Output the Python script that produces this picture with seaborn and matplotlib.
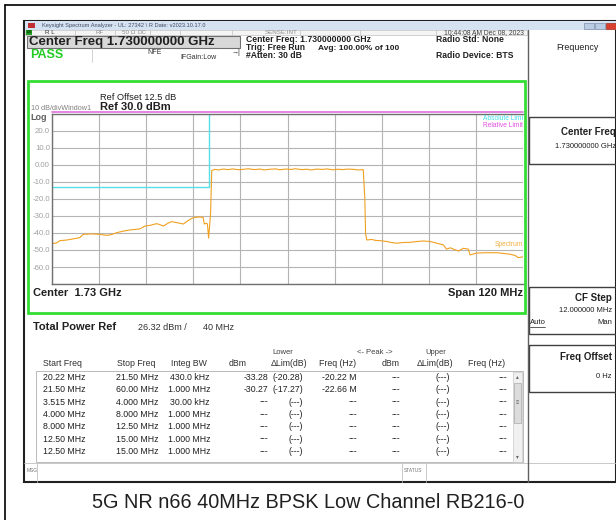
import numpy as np
import pandas as pd
import seaborn as sns
import matplotlib.pyplot as plt
from matplotlib.patches import Rectangle

# spectrum trace, offset from the 1.73 GHz centre (MHz) vs level (dBm)
trace_freq = [-60, -59.5, -58.8, -58, -56.5, -55.4, -54, -52.9, -52.4, -52, -50, -47.8,
              -46.1, -44.8, -43.5, -42, -40.1, -38.8, -37.6, -36.3, -35.2, -34.2, -33.3,
              -32.4, -31.6, -30.5, -29.5, -28.2, -26.5, -25.4, -24.4, -23.6, -22.5, -21.5,
              -21.2, -20.6, -20.4, -20.1, -19.8, -19.6, -19.3,
              -18.5, -17.5, -16.5, -15, -14, -12.5, -11, -10, -8.5, -7, -6, -4.5, -3, -2,
              -0.5, 1, 2, 3.5, 5, 6, 7.5, 9, 10, 11.5, 13, 14, 15.5, 17, 18, 19.3,
              19.7, 19.9, 20.2, 21.5, 22.5, 23.6, 25.3, 26.5, 27.8, 29.5, 31.2, 33, 34.6,
              36.3, 38, 39.7, 40.5, 41.5, 42.3, 43.5, 44.8, 46.1, 46.5, 48.2, 50.7, 53.3,
              55, 56.7, 58, 58.8, 60]
trace_dbm = [-45.5, -46.2, -45.8, -44.5, -44.2, -43.8, -43.2, -42.7, -41.5, -40.8, -40.5, -40.8,
             -41.4, -40.9, -39.8, -39.0, -38.2, -37.9, -37.6, -35.9, -35.6, -35.0, -34.5,
             -35.2, -35.9, -34.3, -33.3, -33.9, -34.7, -32.8, -31.4, -30.8, -30.6, -30.8,
             -34.7, -34.2, -34.7, -43.0, -34.5, -28.4, -3.2,
             -2.6, -2.9, -2.4, -2.7, -2.3, -2.8, -2.5, -2.2, -2.7, -2.4, -2.9, -2.5, -2.3, -2.8,
             -2.4, -2.6, -2.2, -2.7, -2.5, -2.9, -2.4, -2.6, -2.3, -2.8, -2.5, -2.7, -2.4, -2.6, -2.9, -2.7,
             -20.0, -40.5, -44.1, -43.8, -44.4, -44.5, -45.0, -45.6, -46.0, -45.6, -45.5, -45.0, -44.7,
             -45.0, -46.0, -47.0, -49.5, -48.7, -49.5, -50.6, -49.0, -49.5, -52.9, -51.8, -51.6, -51.6,
             -52.0, -52.5, -53.2, -54.5, -54.0]

# limit lines
abs_lim_freq = [-60, -20, -20]
abs_lim_dbm = [-13, -13, 45]
rel_lim_freq = [-60, 60]
rel_lim_dbm = [31.4, 31.4]

ytick_vals = [30, 20, 10, 0, -10, -20, -30, -40, -50, -60, -70]
ytick_text = ["", "20.0", "10.0", "0.00", "-10.0", "-20.0", "-30.0", "-40.0", "-50.0", "-60.0", ""]

# measurement table
start_freq = ["20.22 MHz", "21.50 MHz", "3.515 MHz", "4.000 MHz", "8.000 MHz", "12.50 MHz", "12.50 MHz"]
stop_freq = ["21.50 MHz", "60.00 MHz", "4.000 MHz", "8.000 MHz", "12.50 MHz", "15.00 MHz", "15.00 MHz"]
integ_bw = ["430.0 kHz", "1.000 MHz", "30.00 kHz", "1.000 MHz", "1.000 MHz", "1.000 MHz", "1.000 MHz"]
band_dbm = ["-33.28", "-30.27", "---", "---", "---", "---", "---"]
lower_dlim = ["(-20.28)", "(-17.27)", "(---)", "(---)", "(---)", "(---)", "(---)"]
lower_freq = ["-20.22 M", "-22.66 M", "---", "---", "---", "---", "---"]
peak_dbm = ["---"] * 7
upper_dlim = ["(---)"] * 7
upper_freq = ["---"] * 7

caption = "5G NR n66 40MHz BPSK Low Channel RB216-0"

sns.set_style("white")
plt.rcParams['font.family'] = ['Liberation Sans', 'DejaVu Sans']

W, H = 616, 520
fig = plt.figure(figsize=(W / 100, H / 100), dpi=100)
fig.patch.set_facecolor("white")

# pixel canvas for the analyzer window chrome
bg = fig.add_axes([0, 0, 1, 1])
bg.set_xlim(0, W)
bg.set_ylim(H, 0)
bg.axis("off")


def box(x0, y0, x1, y1, fc="none", ec="none", lw=1.0, z=1):
    bg.add_patch(Rectangle((x0, y0), x1 - x0, y1 - y0, facecolor=fc, edgecolor=ec, lw=lw, zorder=z))


def txt(x, y, s, size=6, ha="left", color="black", weight="normal", **kw):
    bg.text(x, y, s, fontsize=size, ha=ha, va="center", color=color, weight=weight, **kw)


# outer frame
bg.plot([5, 5], [5, 520], color="black", lw=1.2)
bg.plot([5, 616], [5, 5], color="black", lw=1.2)

# window
box(24, 21, 616, 482, fc="white", ec="#202020", lw=1.5)
box(25, 21, 616, 29.5, fc="#d4e2f2")
box(28, 23, 35, 28, fc="#c03030")
txt(42, 25.3, "Keysight Spectrum Analyzer - UL: 27342 \\ R Date: v2023.10.17.0", size=4.1, color="#404a60")
box(584, 23, 594, 29, fc="#b8cce4", ec="#8090a8", lw=0.5)
box(595, 23, 605, 29, fc="#b8cce4", ec="#8090a8", lw=0.5)
box(606, 23, 616, 29, fc="#d84030", ec="#a03020", lw=0.5)

# status row
box(25, 29.5, 527, 35, fc="#f4f4f4", ec="#c0c0c0", lw=0.5)
box(26, 30, 32, 34.5, fc="#20a020")
txt(29, 32.3, "LXI", size=2.6, ha="center", color="black")
for sx in [75, 115, 150, 180, 232, 300, 360, 436]:
    bg.plot([sx, sx], [29.5, 35], color="#c0c0c0", lw=0.5)
txt(45, 32.3, "R L", size=4.5, color="#303030")
txt(95, 32.3, "RF", size=4.5, color="#909090")
txt(122, 32.3, "50 \u03a9", size=4.5, color="#909090")
txt(138, 32.3, "DC", size=4.5, color="#909090")
txt(265, 32.3, "SENSE:INT", size=4.5, color="#909090")
txt(524, 32.3, "10:44:08 AM Dec 08, 2023", size=4.9, ha="right", color="#404040")

# measurement header
box(27, 35.5, 240, 48, fc="#d8d8d8", ec="#707070", lw=0.8)
txt(29, 41.8, "Center Freq 1.730000000 GHz", size=9.5, weight="bold", color="#202020")
txt(30, 55, "PASS", size=9, weight="bold", color="#22cc22")
bg.plot([92, 92], [48, 62], color="#c0c0c0", lw=0.5)
txt(147, 53, "NFE", size=5, color="#303030")
txt(180, 57.5, "IFGain:Low", size=5, color="#303030")
txt(236, 53, "\u2192|", size=5, ha="center", color="#303030")
txt(246, 40, "Center Freq: 1.730000000 GHz", size=6.2, weight="bold", color="#202020")
txt(246, 48, "Trig: Free Run", size=6.2, weight="bold", color="#202020")
txt(246, 56, "#Atten: 30 dB", size=6.2, weight="bold", color="#202020")
txt(318, 48, "Avg: 100.00% of 100", size=6.0, weight="bold", color="#202020")
txt(436, 40, "Radio Std: None", size=6.2, weight="bold", color="#202020")
txt(436, 56, "Radio Device: BTS", size=6.2, weight="bold", color="#202020")

# green window frame around the trace
box(28, 81, 525, 313, ec="#33dd33", lw=2.0, z=3)
txt(100, 97, "Ref Offset 12.5 dB", size=6.7, color="#202020")
txt(100, 107.5, "Ref 30.0 dBm", size=8, weight="bold", color="#202020")
txt(31, 108, "10 dB/divWindow1", size=5.2, color="#808080")
txt(30, 118, "Log", size=6.5, weight="bold", color="#606060")
txt(33, 293, "Center  1.73 GHz", size=8, weight="bold", color="#202020")
txt(523, 293, "Span 120 MHz", size=8, weight="bold", ha="right", color="#202020")

# summary and table
txt(33, 327, "Total Power Ref", size=8, weight="bold", color="#202020")
txt(138, 327, "26.32 dBm /", size=6.5, color="#303030")
txt(203, 327, "40 MHz", size=6.5, color="#303030")

hy = 364
txt(283, 352, "Lower", size=5.5, ha="center", color="#404040")
txt(375, 352, "<- Peak ->", size=5.5, ha="center", color="#404040")
txt(436, 352, "Upper", size=5.5, ha="center", color="#404040")
headers = [(43, "left", "Start Freq"), (155, "right", "Stop Freq"), (207, "right", "Integ BW"),
           (247, "right", "dBm"), (307, "right", "\u0394Lim(dB)"), (356, "right", "Freq (Hz)"),
           (400, "right", "dBm"), (453, "right", "\u0394Lim(dB)"), (505, "right", "Freq (Hz)")]
for hx, ha, s in headers:
    txt(hx, hy, s, size=6.3, ha=ha, color="#303030")

box(36, 371, 523, 462, ec="#b0b0b0", lw=0.6)
columns = [(43, "left", start_freq), (158, "right", stop_freq), (210, "right", integ_bw),
           (268, "right", band_dbm), (303, "right", lower_dlim), (357, "right", lower_freq),
           (400, "right", peak_dbm), (450, "right", upper_dlim), (507, "right", upper_freq)]
for i in range(len(start_freq)):
    ry = 377.5 + i * 12.3
    for cx, ha, col in columns:
        txt(cx, ry, col[i], size=6.3, ha=ha, color="#202020")

# scrollbar
box(513, 372, 522, 462, fc="#f0f0f0", ec="#c8c8c8", lw=0.5)
box(514, 383, 521, 423, fc="#dcdcdc", ec="#a8a8a8", lw=0.5)
txt(517.5, 377, "\u25b4", size=4, ha="center", color="#606060")
txt(517.5, 457, "\u25be", size=4, ha="center", color="#606060")
txt(517.5, 403, "\u2261", size=4, ha="center", color="#606060")

# message bar
bg.plot([24, 616], [463, 463], color="#c0c0c0", lw=0.6)
bg.plot([37, 37], [463, 482], color="#c0c0c0", lw=0.6)
bg.plot([402, 402], [463, 482], color="#c0c0c0", lw=0.6)
bg.plot([426, 426], [463, 482], color="#c0c0c0", lw=0.6)
txt(27, 470, "MSG", size=3.5, color="#707070")
txt(404, 470, "STATUS", size=3.5, color="#707070")

# softkey panel
bg.plot([528, 528], [29.5, 482], color="#606060", lw=1.0)
txt(577, 47, "Frequency", size=6.4, ha="center", color="#202020")
for y0, y1 in [(117, 164), (287, 334), (345, 392)]:
    box(529, y0, 620, y1, ec="#404040", lw=1.0)
txt(616, 132, "Center Freq", size=7, weight="bold", ha="right", color="#202020")
txt(616, 147, "1.730000000 GHz", size=5.5, ha="right", color="#202020")
txt(612, 298, "CF Step", size=7, weight="bold", ha="right", color="#202020")
txt(612, 311, "12.000000 MHz", size=5.5, ha="right", color="#202020")
txt(530, 323, "Auto", size=5.5, color="#202020")
bg.plot([530, 545], [327, 327], color="#202020", lw=0.5)
txt(612, 323, "Man", size=5.5, ha="right", color="#202020")
txt(612, 357, "Freq Offset", size=7, weight="bold", ha="right", color="#202020")
txt(612, 376, "0 Hz", size=5.5, ha="right", color="#202020")

# caption
txt(308, 503, caption, size=14.3, ha="center", color="#202020")

# spectrum graticule
ax = fig.add_axes([52 / W, 1 - 284 / H, 471 / W, 170 / H])
ax.set_zorder(2)
ax.set_facecolor("white")
sns.lineplot(x=abs_lim_freq, y=abs_lim_dbm, sort=False, estimator=None, color="#55e0e8", lw=1.0, ax=ax)
sns.lineplot(x=rel_lim_freq, y=rel_lim_dbm, sort=False, estimator=None, color="#e070e0", lw=1.2,
             ax=ax, clip_on=False)
sns.lineplot(x=trace_freq, y=trace_dbm, sort=False, estimator=None, color="#f0a020", lw=0.8, ax=ax)
ax.set_xlim(-60, 60)
ax.set_ylim(-70, 30)
ax.set_xticks(np.arange(-60, 61, 12))
ax.set_xticklabels([])
ax.set_yticks(ytick_vals)
ax.set_yticklabels(ytick_text, fontsize=5.6, color="#a0a0a0")
ax.tick_params(length=0, pad=1.5)
ax.grid(True, color="#b4b4b4", lw=0.8)
ax.set_xlabel("")
ax.set_ylabel("")
for side in ["top", "left", "bottom"]:
    ax.spines[side].set_color("#707070")
    ax.spines[side].set_linewidth(1.0)
ax.spines["right"].set_visible(False)
ax.text(1.0, 0.975, "Absolute Limi", transform=ax.transAxes, fontsize=4.8, color="#40e0e8",
        ha="right", va="center")
ax.text(1.0, 0.935, "Relative Limit", transform=ax.transAxes, fontsize=4.8, color="#e050e0",
        ha="right", va="center")
ax.text(1.0, 0.23, "Spectrum", transform=ax.transAxes, fontsize=4.8, color="#f0b040",
        ha="right", va="center")

plt.savefig("out.png", dpi=100)
